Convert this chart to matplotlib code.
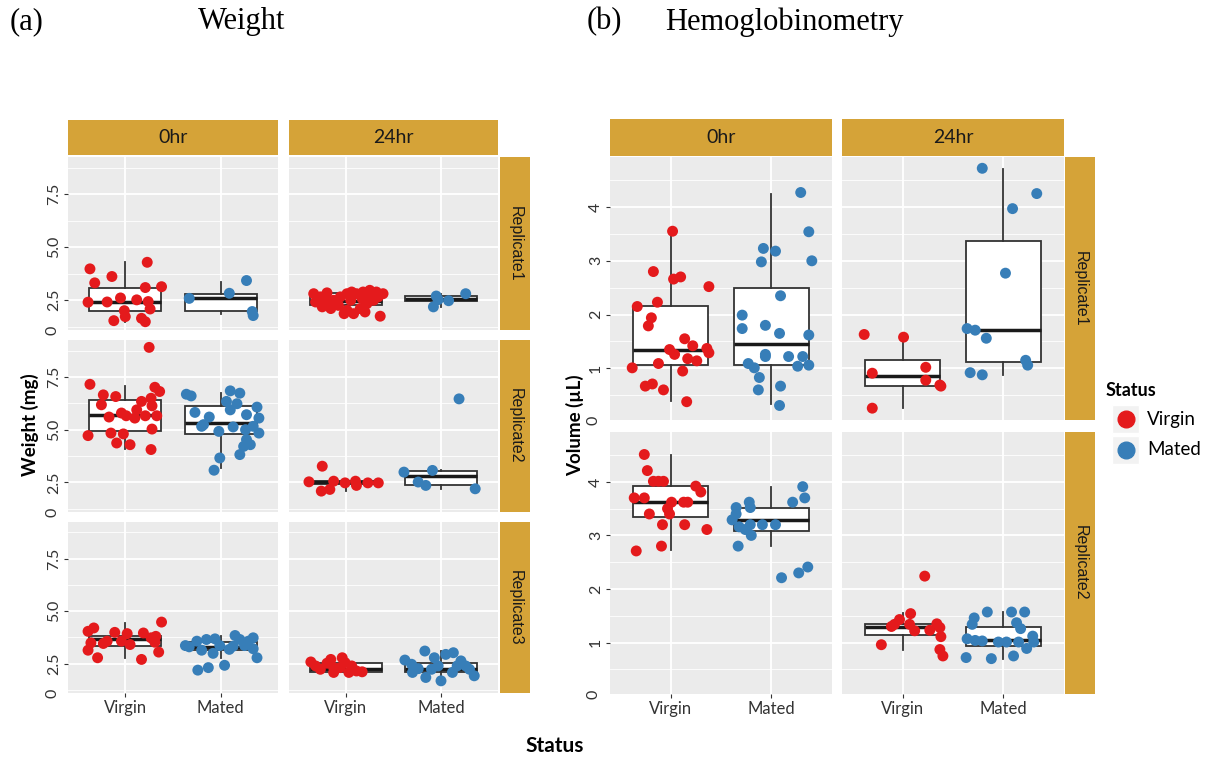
# Recreacion de la figura (a) Weight y (b) Hemoglobinometry   ###########################################
###########################################################################################################
# Librerias importadas

import matplotlib.pyplot as plt
from matplotlib.patches import Rectangle
from matplotlib.lines import Line2D

###########################################################################################################
# Datos
# Cada grupo: valores "y", desplazamiento horizontal del jitter "dx" (en unidades de categoria)
# y la caja [whisker bajo, q1, mediana, q3, whisker alto]

estados = ["Virgin", "Mated"]
tiempos = ["0hr", "24hr"]
replicas_peso = ["Replicate1", "Replicate2", "Replicate3"]
replicas_vol = ["Replicate1", "Replicate2"]

# ---- (a) Peso, Replicate1 ----
peso_r1_0h_v_y = [3.98, 4.29, 3.62, 3.32, 3.10, 3.14, 2.41, 2.42, 2.61, 2.52, 2.44, 2.09, 2.01, 1.73, 1.54, 1.65, 1.49]
peso_r1_0h_v_dx = [-0.37, 0.23, -0.14, -0.32, 0.21, 0.38, -0.39, -0.19, -0.05, 0.12, 0.24, 0.26, -0.01, 0.0, -0.12, 0.17, 0.21]
peso_r1_0h_v_caja = [1.50, 2.01, 2.44, 3.10, 4.29]
peso_r1_0h_m_y = [2.59, 2.83, 3.43, 1.97, 1.78]
peso_r1_0h_m_dx = [-0.33, 0.09, 0.27, 0.33, 0.34]
peso_r1_0h_m_caja = [1.84, 2.01, 2.59, 2.80, 3.38]
peso_r1_24h_v_y = [2.81, 2.66, 2.85, 2.42, 2.34, 2.50, 2.66, 2.81, 2.89, 2.81, 2.89, 2.97, 2.89, 2.81, 2.19,
                   2.11, 2.26, 2.03, 1.87, 2.11, 2.34, 2.50, 2.66, 1.75, 2.50, 2.58, 2.66, 1.87, 2.50, 1.95]
peso_r1_24h_v_dx = [-0.34, -0.27, -0.20, -0.32, -0.23, -0.13, -0.06, 0.01, 0.06, 0.11, 0.18, 0.25, 0.32, 0.39, -0.25,
                    -0.16, -0.08, 0.01, 0.08, 0.15, 0.22, 0.29, 0.34, 0.36, 0.05, 0.17, 0.24, -0.02, -0.20, 0.20]
peso_r1_24h_v_caja = [1.75, 2.30, 2.45, 2.85, 2.97]
peso_r1_24h_m_y = [2.70, 2.48, 2.81, 2.19, 2.53]
peso_r1_24h_m_dx = [-0.05, 0.08, 0.26, -0.08, -0.03]
peso_r1_24h_m_caja = [2.19, 2.45, 2.55, 2.72, 2.81]

# ---- (a) Peso, Replicate2 ----
peso_r2_0h_v_y = [8.90, 7.15, 6.65, 6.57, 6.18, 7.01, 6.81, 6.49, 6.34, 6.13, 5.60, 5.79, 5.66, 5.55, 5.66, 5.66,
                  5.94, 4.72, 4.84, 4.80, 4.37, 4.29, 4.06, 5.03]
peso_r2_0h_v_dx = [0.25, -0.37, -0.23, -0.10, -0.25, 0.31, 0.36, 0.27, 0.17, 0.28, -0.17, -0.04, 0.01, 0.10, 0.21, 0.33,
                   0.12, -0.39, -0.15, -0.02, -0.09, 0.05, 0.27, 0.28]
peso_r2_0h_v_caja = [4.09, 4.95, 5.71, 6.42, 7.08]
peso_r2_0h_m_y = [6.68, 6.60, 6.84, 6.73, 6.34, 6.23, 6.07, 5.94, 5.82, 5.60, 5.71, 5.55, 5.24, 5.16, 5.13, 5.00,
                  5.16, 4.84, 4.92, 4.53, 4.21, 4.29, 3.82, 3.66, 3.08]
peso_r2_0h_m_dx = [-0.36, -0.31, 0.10, 0.20, 0.06, 0.17, 0.38, 0.10, -0.27, -0.12, 0.27, 0.40, -0.18, -0.20, 0.13, 0.26,
                   0.34, 0.40, -0.02, 0.27, 0.24, 0.31, 0.20, -0.01, -0.07]
peso_r2_0h_m_caja = [3.19, 4.80, 5.31, 6.10, 6.76]
peso_r2_24h_v_y = [3.27, 2.53, 2.09, 2.17, 2.56, 2.48, 2.56, 2.36, 2.48, 2.48]
peso_r2_24h_v_dx = [-0.25, -0.39, -0.26, -0.17, -0.13, -0.01, 0.10, 0.11, 0.23, 0.34]
peso_r2_24h_v_caja = [2.10, 2.45, 2.50, 2.55, 2.60]
peso_r2_24h_m_y = [6.46, 2.99, 3.07, 2.52, 2.36, 2.20]
peso_r2_24h_m_dx = [0.19, -0.39, -0.09, -0.24, -0.16, 0.36]
peso_r2_24h_m_caja = [2.20, 2.40, 2.80, 3.03, 3.07]

# ---- (a) Peso, Replicate3 ----
peso_r3_0h_v_y = [4.48, 4.04, 4.20, 3.99, 3.93, 3.96, 3.73, 3.80, 3.49, 3.46, 3.57, 3.57, 3.41, 3.52, 3.14, 3.05, 2.78, 2.70]
peso_r3_0h_v_dx = [0.38, -0.39, -0.33, -0.11, 0.02, 0.19, 0.27, 0.32, -0.36, -0.23, -0.19, -0.04, 0.05, 0.31, -0.39,
                   0.35, -0.29, 0.17]
peso_r3_0h_v_caja = [2.75, 3.36, 3.65, 3.84, 4.43]
peso_r3_0h_m_y = [3.36, 3.30, 3.57, 3.65, 3.68, 3.14, 2.99, 3.36, 3.18, 3.84, 3.65, 3.57, 3.73, 3.36, 3.21, 2.78,
                  3.33, 2.19, 2.31, 2.42]
peso_r3_0h_m_dx = [-0.37, -0.33, -0.25, -0.15, -0.06, -0.20, -0.08, -0.01, 0.09, 0.15, 0.20, 0.29, 0.34, 0.25, 0.34,
                   0.38, 0.13, -0.24, -0.13, 0.04]
peso_r3_0h_m_caja = [2.78, 3.13, 3.29, 3.52, 3.84]
peso_r3_24h_v_y = [2.58, 2.39, 2.52, 2.70, 2.31, 2.78, 2.55, 2.39, 2.15, 2.11, 2.08, 2.08, 2.23, 2.31]
peso_r3_24h_v_dx = [-0.37, -0.32, -0.20, -0.16, -0.13, -0.04, -0.01, 0.06, 0.11, 0.17, 0.03, -0.13, -0.27, -0.06]
peso_r3_24h_v_caja = [2.08, 2.10, 2.25, 2.55, 2.78]
peso_r3_24h_m_y = [2.67, 2.47, 3.10, 2.78, 2.94, 3.02, 2.63, 2.26, 1.84, 1.68, 2.08, 2.39, 1.92, 2.23, 2.08, 2.39,
                   2.39, 2.23]
peso_r3_24h_m_dx = [-0.38, -0.31, -0.17, -0.07, 0.05, 0.13, 0.21, -0.24, -0.16, 0.00, 0.12, 0.26, 0.35, 0.30, -0.30,
                    -0.03, 0.17, -0.10]
peso_r3_24h_m_caja = [1.68, 2.08, 2.23, 2.55, 3.10]

# ---- (b) Volumen, Replicate1 ----
vol_r1_0h_v_y = [3.55, 2.80, 2.66, 2.70, 2.52, 2.15, 2.23, 1.94, 1.79, 1.55, 1.42, 1.35, 1.26, 1.18, 1.14, 1.37,
                 1.29, 1.01, 1.09, 0.95, 0.67, 0.71, 0.60, 0.38]
vol_r1_0h_v_dx = [0.02, -0.17, 0.03, 0.10, 0.38, -0.33, -0.13, -0.19, -0.22, 0.14, 0.22, -0.01, 0.04, 0.17, 0.26, 0.36,
                  0.38, -0.38, -0.12, 0.12, -0.25, -0.18, -0.07, 0.16]
vol_r1_0h_v_caja = [0.39, 1.07, 1.35, 2.16, 3.52]
vol_r1_0h_m_y = [4.27, 3.54, 3.00, 3.23, 3.18, 2.98, 2.35, 1.99, 1.74, 1.80, 1.65, 1.62, 1.26, 1.22, 1.22, 1.22,
                 1.04, 1.06, 1.09, 1.01, 0.83, 0.60, 0.67, 0.31]
vol_r1_0h_m_dx = [0.29, 0.37, 0.40, -0.08, 0.04, -0.10, 0.09, -0.29, -0.29, -0.06, 0.08, 0.37, -0.06, -0.06, 0.17, 0.31,
                  0.26, 0.37, -0.23, -0.17, -0.12, -0.13, 0.09, 0.08]
vol_r1_0h_m_caja = [0.33, 1.06, 1.45, 2.49, 4.25]
vol_r1_24h_v_y = [1.63, 1.58, 1.02, 0.91, 0.78, 0.69, 0.67, 0.26]
vol_r1_24h_v_dx = [-0.38, 0.01, 0.23, -0.30, 0.23, 0.37, 0.38, -0.30]
vol_r1_24h_v_caja = [0.27, 0.68, 0.86, 1.15, 1.53]
vol_r1_24h_m_y = [4.72, 4.25, 3.97, 2.77, 1.74, 1.71, 1.56, 1.15, 1.06, 0.92, 0.88]
vol_r1_24h_m_dx = [-0.21, 0.33, 0.09, 0.02, -0.36, -0.28, -0.17, 0.22, 0.24, -0.33, -0.21]
vol_r1_24h_m_caja = [0.88, 1.11, 1.71, 3.37, 4.71]

# ---- (b) Volumen, Replicate2 ----
vol_r2_0h_v_y = [4.51, 4.21, 4.01, 4.01, 4.01, 3.92, 3.81, 3.70, 3.70, 3.62, 3.62, 3.62, 3.50, 3.40, 3.40, 3.20,
                 3.20, 3.11, 2.80, 2.71]
vol_r2_0h_v_dx = [-0.26, -0.23, -0.17, -0.12, -0.07, 0.25, 0.30, -0.36, -0.26, 0.01, 0.13, 0.17, -0.03, -0.01, -0.21,
                  -0.08, 0.14, 0.36, -0.09, -0.34]
vol_r2_0h_v_caja = [2.72, 3.35, 3.62, 3.93, 4.50]
vol_r2_0h_m_y = [3.91, 3.70, 3.62, 3.52, 3.62, 3.52, 3.40, 3.29, 3.16, 3.20, 3.20, 3.20, 3.11, 3.00, 2.80, 2.21,
                 2.30, 2.41]
vol_r2_0h_m_dx = [0.31, 0.33, 0.21, -0.35, -0.22, -0.21, -0.35, -0.39, -0.32, -0.21, -0.09, 0.04, -0.26, -0.20, -0.33,
                  0.10, 0.27, 0.36]
vol_r2_0h_m_caja = [2.80, 3.09, 3.28, 3.52, 3.90]
vol_r2_24h_v_y = [2.24, 1.54, 1.43, 1.34, 1.30, 1.34, 1.22, 1.23, 1.35, 1.28, 1.11, 0.96, 0.87, 0.75]
vol_r2_24h_v_dx = [0.22, 0.08, -0.03, -0.08, -0.11, 0.07, 0.12, 0.27, 0.34, 0.37, 0.38, -0.21, 0.37, 0.40]
vol_r2_24h_v_caja = [0.87, 1.14, 1.29, 1.34, 1.55]
vol_r2_24h_m_y = [1.57, 1.57, 1.57, 1.46, 1.37, 1.26, 1.34, 1.07, 1.04, 1.03, 1.01, 1.01, 1.01, 1.12, 1.01, 0.89,
                  0.72, 0.70, 0.75]
vol_r2_24h_m_dx = [-0.16, 0.08, 0.21, -0.29, 0.13, 0.17, -0.31, -0.36, -0.28, -0.21, -0.05, 0.03, 0.15, 0.29, 0.30,
                   0.23, -0.37, -0.12, 0.10]
vol_r2_24h_m_caja = [0.70, 0.93, 1.04, 1.29, 1.57]

###########################################################################################################
# Tablas para recorrer los paneles (fila, columna) -> (virgin, mated)

peso = {
    (0, 0): [(peso_r1_0h_v_dx, peso_r1_0h_v_y, peso_r1_0h_v_caja), (peso_r1_0h_m_dx, peso_r1_0h_m_y, peso_r1_0h_m_caja)],
    (0, 1): [(peso_r1_24h_v_dx, peso_r1_24h_v_y, peso_r1_24h_v_caja), (peso_r1_24h_m_dx, peso_r1_24h_m_y, peso_r1_24h_m_caja)],
    (1, 0): [(peso_r2_0h_v_dx, peso_r2_0h_v_y, peso_r2_0h_v_caja), (peso_r2_0h_m_dx, peso_r2_0h_m_y, peso_r2_0h_m_caja)],
    (1, 1): [(peso_r2_24h_v_dx, peso_r2_24h_v_y, peso_r2_24h_v_caja), (peso_r2_24h_m_dx, peso_r2_24h_m_y, peso_r2_24h_m_caja)],
    (2, 0): [(peso_r3_0h_v_dx, peso_r3_0h_v_y, peso_r3_0h_v_caja), (peso_r3_0h_m_dx, peso_r3_0h_m_y, peso_r3_0h_m_caja)],
    (2, 1): [(peso_r3_24h_v_dx, peso_r3_24h_v_y, peso_r3_24h_v_caja), (peso_r3_24h_m_dx, peso_r3_24h_m_y, peso_r3_24h_m_caja)],
}
volumen = {
    (0, 0): [(vol_r1_0h_v_dx, vol_r1_0h_v_y, vol_r1_0h_v_caja), (vol_r1_0h_m_dx, vol_r1_0h_m_y, vol_r1_0h_m_caja)],
    (0, 1): [(vol_r1_24h_v_dx, vol_r1_24h_v_y, vol_r1_24h_v_caja), (vol_r1_24h_m_dx, vol_r1_24h_m_y, vol_r1_24h_m_caja)],
    (1, 0): [(vol_r2_0h_v_dx, vol_r2_0h_v_y, vol_r2_0h_v_caja), (vol_r2_0h_m_dx, vol_r2_0h_m_y, vol_r2_0h_m_caja)],
    (1, 1): [(vol_r2_24h_v_dx, vol_r2_24h_v_y, vol_r2_24h_v_caja), (vol_r2_24h_m_dx, vol_r2_24h_m_y, vol_r2_24h_m_caja)],
}

###########################################################################################################
# Estilo

W, H = 1211, 760
colores = ["#E41A1C", "#377EB8"]
fondo = "#EBEBEB"
dorado = "#D5A338"
fuente = "Lato"

fig = plt.figure(figsize=(W / 100, H / 100), dpi=100)


# Funcion caja_px
# pasa un rectangulo en pixeles (x0, y0 arriba, x1, y1 abajo) a coordenadas de figura
def caja_px(x0, y0, x1, y1):
    return [x0 / W, 1 - y1 / H, (x1 - x0) / W, (y1 - y0) / H]


# Funcion tira
# dibuja una etiqueta dorada de faceta
def tira(x0, y0, x1, y1, texto, rot=0):
    fig.add_artist(Rectangle((x0 / W, 1 - y1 / H), (x1 - x0) / W, (y1 - y0) / H,
                             transform=fig.transFigure, facecolor=dorado, edgecolor="none"))
    if rot == 0:
        fig.text((x0 + x1) / 2 / W, 1 - (y0 + y1) / 2 / H, texto, ha="center", va="center",
                 fontsize=14, family=fuente, color="#1A1A1A")
    else:
        fig.text((x0 + x1) / 2 / W, 1 - (y0 + y1) / 2 / H, texto, ha="center", va="center",
                 fontsize=11.5, family="Liberation Sans", color="#1A1A1A", rotation=rot)


# Funcion panel
# dibuja un panel: fondo gris, rejilla, cajas y puntos con jitter
def panel(rect, grupos, ylim, mayor, menor, etiquetas_y, con_y, con_x):
    ax = fig.add_axes(caja_px(*rect))
    ax.set_facecolor(fondo)
    for s in ax.spines.values():
        s.set_visible(False)

    stats = []
    for dx, y, c in grupos:
        stats.append({"whislo": c[0], "q1": c[1], "med": c[2], "q3": c[3], "whishi": c[4], "fliers": []})
    ax.bxp(stats, positions=[1, 2], widths=0.75, patch_artist=True, showfliers=False, showcaps=False,
           manage_ticks=False,
           boxprops=dict(facecolor="white", edgecolor="#333333", lw=1.3),
           whiskerprops=dict(color="#333333", lw=1.3),
           medianprops=dict(color="#1A1A1A", lw=2.5))
    for i, (dx, y, c) in enumerate(grupos):
        xs = [i + 1 + d for d in dx]
        ax.scatter(xs, y, s=62, color=colores[i], edgecolors="none", zorder=3)

    ax.set_xlim(0.4, 2.6)
    ax.set_ylim(*ylim)
    ax.set_xticks([1, 2])
    ax.set_yticks(mayor)
    ax.set_yticks(menor, minor=True)
    ax.grid(True, which="major", color="white", lw=1.3)
    ax.grid(True, which="minor", axis="y", color="white", lw=0.6)
    ax.set_axisbelow(True)
    ax.tick_params(which="minor", length=0)
    ax.tick_params(axis="both", length=3, width=0.8, color="#333333", labelcolor="#333333", pad=2)

    if con_y:
        ax.set_yticklabels(etiquetas_y, rotation=90, va="center", fontsize=11.5, family=fuente)
        ax.text(-0.075, 0.0, "0", transform=ax.transAxes, rotation=90, ha="center", va="center",
                fontsize=11.5, family=fuente, color="#333333")
    else:
        ax.tick_params(axis="y", length=0, labelleft=False)
    if con_x:
        ax.set_xticklabels(estados, fontsize=12, family=fuente)
    else:
        ax.tick_params(axis="x", length=0, labelbottom=False)
    return ax


###########################################################################################################
# Parte (a) Weight

cols_a = [(68, 278), (289, 498)]
filas_a = [(157, 330), (340, 512), (522, 693)]
for f in range(3):
    for c in range(2):
        x0, x1 = cols_a[c]
        y0, y1 = filas_a[f]
        panel((x0, y0, x1, y1), peso[(f, c)], (1.1, 9.25), [2.5, 5.0, 7.5], [1.25, 3.75, 6.25, 8.75],
              ["2.5", "5.0", "7.5"], c == 0, f == 2)
for c in range(2):
    tira(cols_a[c][0], 120, cols_a[c][1], 155, tiempos[c])
for f in range(3):
    tira(500, filas_a[f][0], 530, filas_a[f][1], replicas_peso[f], rot=-90)

fig.text(30 / W, 1 - 425 / H, "Weight (mg)", rotation=90, ha="center", va="center",
         fontsize=13.5, fontweight="bold", family=fuente)

###########################################################################################################
# Parte (b) Hemoglobinometry

cols_b = [(610, 832), (842, 1064)]
filas_b = [(157, 420), (432, 694)]
for f in range(2):
    for c in range(2):
        x0, x1 = cols_b[c]
        y0, y1 = filas_b[f]
        panel((x0, y0, x1, y1), volumen[(f, c)], (0.04, 4.93), [1, 2, 3, 4], [0.5, 1.5, 2.5, 3.5, 4.5],
              ["1", "2", "3", "4"], c == 0, f == 1)
for c in range(2):
    tira(cols_b[c][0], 119, cols_b[c][1], 156, tiempos[c])
for f in range(2):
    tira(1065, filas_b[f][0], 1095, filas_b[f][1], replicas_vol[f], rot=-90)

fig.text(575 / W, 1 - 425 / H, "Volume (µL)", rotation=90, ha="center", va="center",
         fontsize=13.5, fontweight="bold", family=fuente)

# Titulo comun del eje X
fig.text(555 / W, 1 - 746 / H, "Status", ha="center", va="center", fontsize=15,
         fontweight="bold", family=fuente)

###########################################################################################################
# Leyenda

fig.text(1106 / W, 1 - 390 / H, "Status", ha="left", va="center", fontsize=13,
         fontweight="bold", family=fuente)
for i, (nombre, yc) in enumerate(zip(estados, [419, 450])):
    fig.add_artist(Rectangle((1112 / W, 1 - (yc + 14) / H), 27 / W, 28 / H,
                             transform=fig.transFigure, facecolor="#F2F2F2", edgecolor="white"))
    fig.add_artist(Line2D([1126 / W], [1 - yc / H], marker="o", markersize=12, color=colores[i],
                          linestyle="none", transform=fig.transFigure))
    fig.text(1147 / W, 1 - yc / H, nombre, ha="left", va="center", fontsize=13.5, family=fuente)

###########################################################################################################
# Titulos de las partes

serif = "Liberation Serif"
fig.text(10 / W, 1 - 22 / H, "(a)", ha="left", va="center", fontsize=22, family=serif)
fig.text(198 / W, 1 - 22 / H, "Weight", ha="left", va="center", fontsize=22, family=serif)
fig.text(587 / W, 1 - 22 / H, "(b)", ha="left", va="center", fontsize=22, family=serif)
fig.text(665 / W, 1 - 22 / H, "Hemoglobinometry", ha="left", va="center", fontsize=22, family=serif)

fig.savefig("out.png", dpi=100)
